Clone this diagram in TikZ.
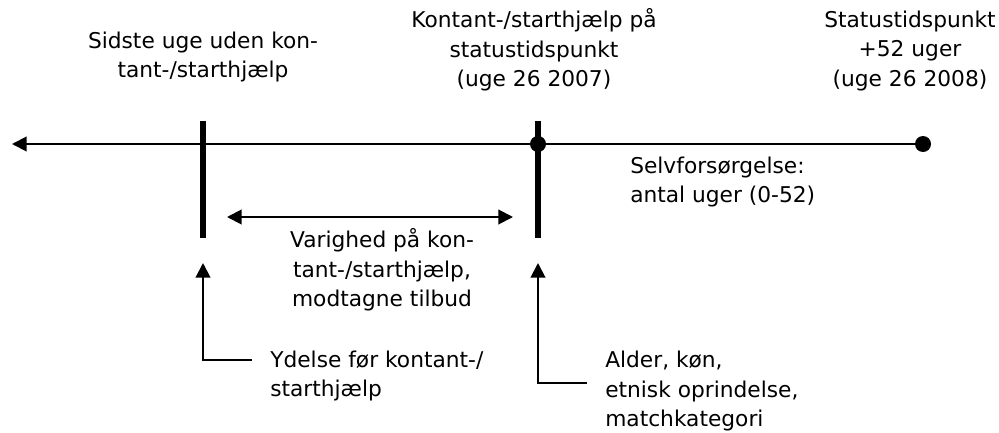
\documentclass[tikz,border=0pt]{standalone}
\usepackage{fontspec}
\setmainfont{DejaVu Sans}
\usetikzlibrary{arrows.meta}
\tikzstyle{txt}=[inner sep=0pt,align=center,font=\fontsize{16.3}{22}\selectfont]
\tikzstyle{ltxt}=[txt,align=left,anchor=west]
\tikzstyle{dot}=[circle,fill=black,inner sep=0pt,minimum size=12pt]
\tikzstyle{bar}=[line width=4pt]
\tikzstyle{ln}=[line width=1.5pt]
\tikzstyle{tip}=[ln,-{Triangle[length=11pt,width=11pt]}]
\tikzstyle{dtip}=[ln,{Triangle[length=11pt,width=11pt]}-{Triangle[length=11pt,width=11pt]}]
\tikzstyle{none}=[]

\begin{document}
\begin{tikzpicture}[x=0.75pt,y=-0.75pt]
            \useasboundingbox (0,0) rectangle (999,432);
            \node [style=dot] (0) at (538, 144) {};
            \node [style=dot] (1) at (923, 144) {};
            \node [style=none] (2) at (12, 144) {};
            \node [style=none] (3) at (203, 121) {};
            \node [style=none] (4) at (203, 238) {};
            \node [style=none] (5) at (538, 121) {};
            \node [style=none] (6) at (538, 238) {};
            \node [style=none] (7) at (227, 217) {};
            \node [style=none] (8) at (513, 217) {};
            \node [style=none] (9) at (203, 263) {};
            \node [style=none] (10) at (203, 360) {};
            \node [style=none] (11) at (252, 360) {};
            \node [style=none] (12) at (538, 263) {};
            \node [style=none] (13) at (538, 383) {};
            \node [style=none] (14) at (587, 383) {};
            \node [style=txt] (15) at (203, 57) {Sidste uge uden kon-\\tant-/starthjælp};
            \node [style=txt] (16) at (534, 50) {Kontant-/starthjælp på\\statustidspunkt\\(uge 26 2007)};
            \node [style=txt] (17) at (910, 51) {Statustidspunkt\\+52 uger\\(uge 26 2008)};
            \node [style=ltxt] (18) at (630, 182) {Selvforsørgelse:\\antal uger (0-52)};
            \node [style=txt] (19) at (382, 270) {Varighed på kon-\\tant-/starthjælp,\\modtagne tilbud};
            \node [style=ltxt] (20) at (270, 376) {Ydelse før kontant-/\\starthjælp};
            \node [style=ltxt] (21) at (605, 391) {Alder, køn,\\etnisk oprindelse,\\matchkategori};
            \draw [style=tip] (1.center) to (2.center);
            \draw [style=bar] (3.center) to (4.center);
            \draw [style=bar] (5.center) to (6.center);
            \draw [style=dtip] (7.center) to (8.center);
            \draw [style=tip] (11.center) -- (10.center) -- (9.center);
            \draw [style=tip] (14.center) -- (13.center) -- (12.center);
\end{tikzpicture}
\end{document}
